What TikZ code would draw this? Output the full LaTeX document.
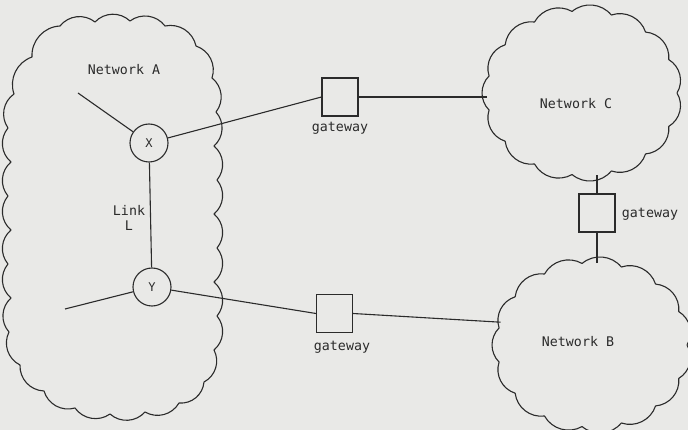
\documentclass[tikz,border=0pt]{standalone}
\usepackage{fontspec}
\setmonofont{DejaVu Sans Mono}
\usetikzlibrary{shapes.geometric}
\definecolor{ink}{HTML}{2B2B2B}
\definecolor{paper}{HTML}{E9E9E7}
\newcommand\cloudring[5]{%
  \draw[cloudline] ({#1+#3},{#2}) \foreach \k in {1,...,#5} { to[bend left=45] ({#1+#3*cos(\k*360/#5)},{#2+#4*sin(\k*360/#5)}) };
}
\begin{document}
\begin{tikzpicture}[x=1pt, y=-1pt,
  cloudline/.style={draw=ink, line width=1.1pt, line join=round},
  netnode/.style={ellipse, minimum width=190pt, minimum height=164pt, inner sep=0pt, draw=none},
  gwbox/.style={draw=ink, rectangle, minimum width=36pt, minimum height=38pt, inner sep=0pt, line width=1.1pt},
  router/.style={draw=ink, circle, minimum size=38pt, inner sep=0pt, line width=1.1pt, text=ink, font=\ttfamily\fontsize{12}{14}\selectfont},
  lbl/.style={font=\ttfamily\fontsize{13.3}{15}\selectfont, text=ink, inner sep=0pt, align=center},
  conn/.style={draw=ink, line width=1.1pt}]
\useasboundingbox (0,0) rectangle (688,430);
\fill[paper] (0,0) rectangle (688,430);
\clip (0,0) rectangle (688,430);

% Network A outline
\draw[cloudline] (60,26) \foreach \px/\py in {95/22,130/21,165/26,196/46,212/78,216/112,214/146,217/180,214/214,217/248,214/282,217/316,214/350,204/382,179/403,145/412,110/414,75/408,44/391,20/365,9/332,11/298,8/264,11/230,8/196,11/162,8/128,14/94,32/57,60/26} { to[bend left=45] (\px,\py) };
\node[lbl] (labA) at (124,70) {Network A};

% Networks C and B
\node[netnode] (netC) at (582,93) {};
\cloudring{582}{93}{95}{82}{15}
\node[lbl] (labC) at (576,104) {Network C};
\node[netnode] (netB) at (592,345) {};
\cloudring{592}{345}{95}{82}{15}
\node[lbl] (labB) at (578,342) {Network B};

% routers
\node[router] (X) at (149,143) {X};
\node[router] (Y) at (152,287) {Y};
\node[lbl] (link) at (129,218) {Link\\L};

% gateways
\node[gwbox] (gw1) at (340,97) {};
\node[lbl] (lg1) at (340,128) {gateway};
\node[gwbox] (gw2) at (597,213) {};
\node[lbl] (lg2) at (650,214) {gateway};
\node[gwbox] (gw3) at (334.5,313.5) {};
\node[lbl] (lg3) at (342,347) {gateway};

% free ends
\coordinate (xa) at (78,93);
\coordinate (ya) at (65,309);

% connectors
\draw[conn] (X) -- (xa);
\draw[conn] (Y) -- (ya);
\draw[conn] (X) -- (Y);
\draw[conn] (X) -- (gw1.west);
\draw[conn] (gw1.east) -- (gw1.east -| netC.west);
\draw[conn] (gw2.north) -- (gw2.north |- netC.south);
\draw[conn] (gw2.south) -- (gw2.south |- netB.north);
\draw[conn] (Y) -- (gw3.west);
\draw[conn] (gw3.east) -- (netB.166);
\end{tikzpicture}
\end{document}
